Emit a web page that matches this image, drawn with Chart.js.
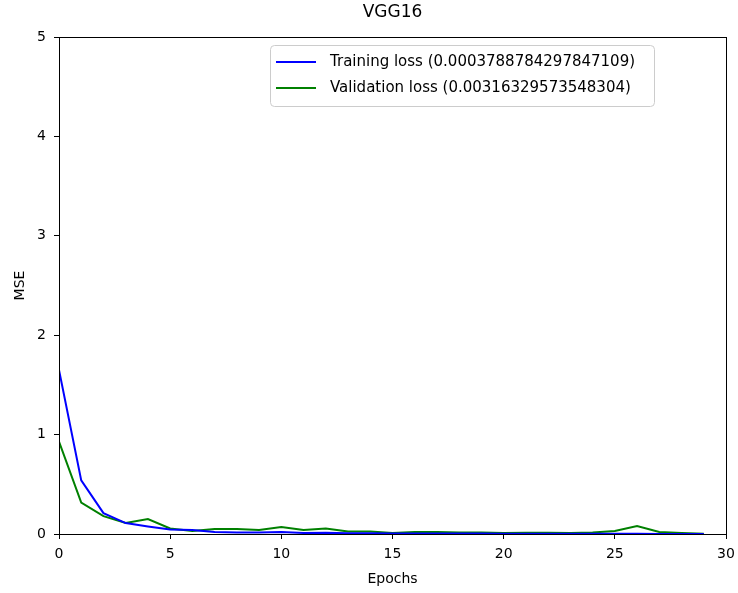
<!DOCTYPE html>
<html>
<head>
<meta charset="utf-8">
<script src="https://cdn.jsdelivr.net/npm/chart.js@4/dist/chart.umd.min.js"></script>
<style>
html,body{margin:0;padding:0;background:#fff;}
#wrap{width:738px;height:593px;position:relative;}
</style>
</head>
<body>
<div id="wrap"><canvas id="c" width="738" height="593"></canvas></div>
<script>
const chartTitle = "VGG16";
const xLabel = "Epochs";
const yLabel = "MSE";
const epochs = [0,1,2,3,4,5,6,7,8,9,10,11,12,13,14,15,16,17,18,19,20,21,22,23,24,25,26,27,28,29];
const trainingLoss = [1.65,0.54,0.21,0.11,0.075,0.045,0.04,0.02,0.015,0.015,0.02,0.01,0.012,0.008,0.008,0.005,0.006,0.005,0.004,0.004,0.003,0.003,0.003,0.002,0.002,0.002,0.003,0.001,0.001,0.0004];
const validationLoss = [0.93,0.315,0.18,0.11,0.15,0.055,0.03,0.05,0.05,0.04,0.07,0.04,0.055,0.025,0.025,0.01,0.02,0.02,0.015,0.015,0.01,0.012,0.012,0.01,0.015,0.03,0.08,0.02,0.01,0.003];
const trainingLabel = "Training loss (0.0003788784297847109)";
const validationLabel = "Validation loss (0.00316329573548304)";
const xTicks = [0,5,10,15,20,25,30];
const yTicks = [0,1,2,3,4,5];

const FONT = "'DejaVu Sans', sans-serif";

const framePlugin = {
  id: 'frame',
  afterDraw(chart) {
    const ctx = chart.ctx;
    const a = chart.chartArea;
    ctx.save();
    ctx.strokeStyle = '#000';
    ctx.lineWidth = 1;
    ctx.strokeRect(Math.round(a.left) + 0.5, Math.round(a.top) + 0.5, Math.round(a.right - a.left), Math.round(a.bottom - a.top));
    // title
    ctx.fillStyle = '#000';
    ctx.font = "17px " + FONT;
    ctx.textAlign = 'center';
    ctx.textBaseline = 'middle';
    ctx.fillText(chartTitle, (a.left + a.right) / 2, 13);
    // legend
    const lx = 270, ly = 45, lw = 384, lh = 61;
    ctx.fillStyle = 'rgba(255,255,255,0.8)';
    ctx.strokeStyle = '#cccccc';
    ctx.beginPath();
    ctx.roundRect(lx + 0.5, ly + 0.5, lw, lh, 4);
    ctx.fill();
    ctx.stroke();
    const items = [[trainingLabel, '#0000ff', 62], [validationLabel, '#008000', 88]];
    ctx.font = "15px " + FONT;
    ctx.textAlign = 'left';
    items.forEach(([t, c, y]) => {
      ctx.strokeStyle = c;
      ctx.lineWidth = 2;
      ctx.beginPath();
      ctx.moveTo(276, y);
      ctx.lineTo(316, y);
      ctx.stroke();
      ctx.fillStyle = '#000';
      ctx.fillText(t, 330, y);
    });
    ctx.restore();
  }
};

new Chart(document.getElementById('c'), {
  type: 'line',
  data: {
    labels: epochs,
    datasets: [
      { label: trainingLabel, data: epochs.map((e, i) => ({x: e, y: trainingLoss[i]})), borderColor: '#0000ff', borderWidth: 2, pointRadius: 0, fill: false, tension: 0 },
      { label: validationLabel, data: epochs.map((e, i) => ({x: e, y: validationLoss[i]})), borderColor: '#008000', borderWidth: 2, pointRadius: 0, fill: false, tension: 0 }
    ]
  },
  options: {
    responsive: false,
    animation: false,
    layout: { padding: { left: 0, right: 12, top: 37, bottom: 0 } },
    plugins: { legend: { display: false }, title: { display: false }, tooltip: { enabled: false } },
    scales: {
      x: {
        type: 'linear', min: 0, max: 30,
        afterBuildTicks: s => { s.ticks = xTicks.map(v => ({value: v})); },
        afterFit: s => { s.height = 59; s.paddingLeft = 0; s.paddingRight = 0; },
        grid: { display: true, drawOnChartArea: false, drawTicks: true, tickLength: 5, color: '#000', tickColor: '#000' },
        border: { display: true, color: '#000' },
        ticks: { color: '#000', font: { family: FONT, size: 14 }, padding: 7, maxRotation: 0 },
        title: { display: true, text: xLabel, color: '#000', font: { family: FONT, size: 14 }, padding: { top: 0, bottom: 5 } }
      },
      y: {
        type: 'linear', min: 0, max: 5,
        afterBuildTicks: s => { s.ticks = yTicks.map(v => ({value: v})); },
        afterFit: s => { s.width = 59; s.paddingTop = 0; s.paddingBottom = 0; },
        grid: { display: true, drawOnChartArea: false, drawTicks: true, tickLength: 5, color: '#000', tickColor: '#000' },
        border: { display: true, color: '#000' },
        ticks: { color: '#000', font: { family: FONT, size: 14 }, padding: 8 },
        title: { display: true, text: yLabel, color: '#000', font: { family: FONT, size: 14 }, padding: { top: 12, bottom: 0 } }
      }
    }
  },
  plugins: [framePlugin]
});
</script>
</body>
</html>
